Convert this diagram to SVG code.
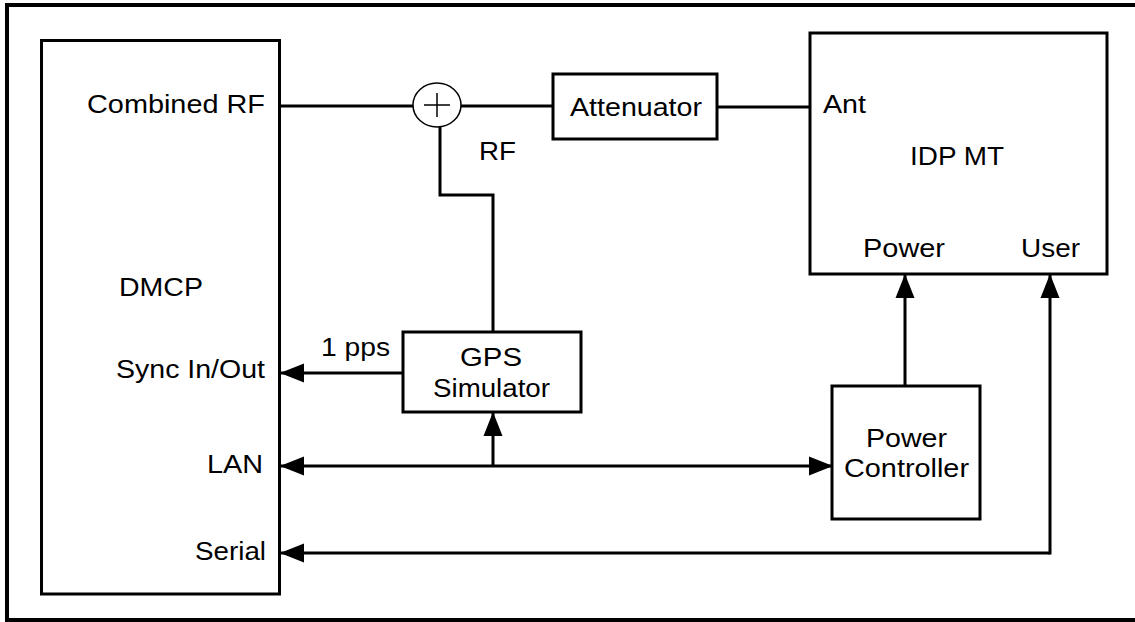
<svg xmlns="http://www.w3.org/2000/svg" width="1135" height="622" viewBox="0 0 1135 622">
  <style>
    .box { fill: #fff; stroke: #000; stroke-width: 3; }
    .wire { fill: none; stroke: #000; stroke-width: 3; }
    .thin { fill: none; stroke: #000; stroke-width: 1.5; }
    .lbl { font-family: "Liberation Sans", Arial, sans-serif; font-size: 25px; fill: #000; }
  </style>
  <defs>
    <marker id="arrow" markerUnits="userSpaceOnUse" markerWidth="24" markerHeight="20" viewBox="0 0 24 20" refX="23" refY="10" orient="auto">
      <path d="M0,0.5 L24,10 L0,19.5 Z" fill="#000"/>
    </marker>
  </defs>

  <rect width="1135" height="622" fill="#fff"/>
  <!-- outer frame -->
  <rect x="7" y="5" width="1140" height="615" fill="none" stroke="#000" stroke-width="4"/>

  <g id="dmcp">
    <rect class="box" x="41.5" y="40.5" width="238" height="553.5"/>
    <text class="lbl" x="87" y="113" textLength="178" lengthAdjust="spacingAndGlyphs">Combined RF</text>
    <text class="lbl" x="119" y="296" textLength="84" lengthAdjust="spacingAndGlyphs">DMCP</text>
    <text class="lbl" x="116" y="378" textLength="149" lengthAdjust="spacingAndGlyphs">Sync In/Out</text>
    <text class="lbl" x="207" y="473" textLength="56" lengthAdjust="spacingAndGlyphs">LAN</text>
    <text class="lbl" x="195" y="560" textLength="71" lengthAdjust="spacingAndGlyphs">Serial</text>
  </g>

  <g id="summer">
    <ellipse class="thin" cx="437" cy="105" rx="24" ry="22"/>
    <path class="thin" d="M424,105 H450 M437,93 V117"/>
  </g>

  <g id="attenuator">
    <rect class="box" x="553" y="74" width="164" height="65"/>
    <text class="lbl" x="570" y="116" textLength="132" lengthAdjust="spacingAndGlyphs">Attenuator</text>
  </g>

  <g id="idp-mt">
    <rect class="box" x="810" y="33" width="297" height="241"/>
    <text class="lbl" x="823" y="113" textLength="43" lengthAdjust="spacingAndGlyphs">Ant</text>
    <text class="lbl" x="910" y="165" textLength="94" lengthAdjust="spacingAndGlyphs">IDP MT</text>
    <text class="lbl" x="863" y="257" textLength="82" lengthAdjust="spacingAndGlyphs">Power</text>
    <text class="lbl" x="1021" y="257" textLength="59" lengthAdjust="spacingAndGlyphs">User</text>
  </g>

  <g id="gps-simulator">
    <rect class="box" x="403" y="332" width="178" height="80"/>
    <text class="lbl" x="460" y="366" textLength="62" lengthAdjust="spacingAndGlyphs">GPS</text>
    <text class="lbl" x="433" y="397" textLength="117" lengthAdjust="spacingAndGlyphs">Simulator</text>
  </g>

  <g id="power-controller">
    <rect class="box" x="832" y="386" width="148" height="133"/>
    <text class="lbl" x="866" y="447" textLength="81" lengthAdjust="spacingAndGlyphs">Power</text>
    <text class="lbl" x="844" y="477" textLength="125" lengthAdjust="spacingAndGlyphs">Controller</text>
  </g>

  <g id="connectors">
    <!-- RF chain -->
    <path class="wire" d="M281,106 H413"/>
    <path class="wire" d="M461,106 H553"/>
    <path class="wire" d="M717,107 H810"/>
    <path class="wire" d="M440,127 V195 H493 V332"/>
    <text class="lbl" x="479" y="160" textLength="37" lengthAdjust="spacingAndGlyphs">RF</text>
    <!-- 1 pps -->
    <path class="wire" d="M403,373 H281" marker-end="url(#arrow)"/>
    <text class="lbl" x="321" y="356" textLength="69" lengthAdjust="spacingAndGlyphs">1 pps</text>
    <!-- LAN bus -->
    <path class="wire" d="M493,466 H281" marker-end="url(#arrow)"/>
    <path class="wire" d="M493,466 H832" marker-end="url(#arrow)"/>
    <path class="wire" d="M493,466 V413" marker-end="url(#arrow)"/>
    <!-- power feed -->
    <path class="wire" d="M905,386 V275" marker-end="url(#arrow)"/>
    <!-- serial / user -->
    <path class="wire" d="M1050,553 H281" marker-end="url(#arrow)"/>
    <path class="wire" d="M1050,554.5 V275" marker-end="url(#arrow)"/>
  </g>
</svg>
